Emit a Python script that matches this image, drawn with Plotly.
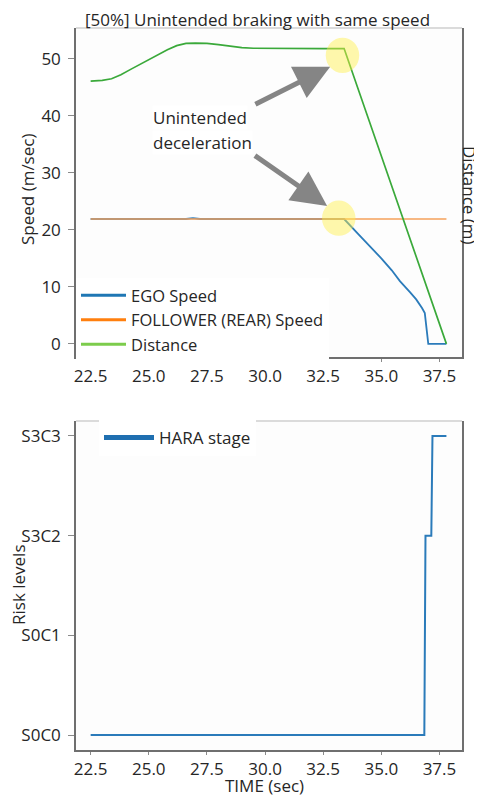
import plotly.graph_objects as go

# ---------------- data ----------------
dist_t = [22.5, 23.0, 23.4, 23.8, 24.2, 24.6, 25.0, 25.4, 25.8, 26.2, 26.6, 27.0, 27.5, 28.0, 28.5, 29.0, 29.5, 30.5, 31.5, 32.5, 33.4, 37.8]
dist_v = [46.1, 46.2, 46.5, 47.2, 48.1, 49.0, 49.9, 50.8, 51.6, 52.3, 52.7, 52.75, 52.7, 52.5, 52.2, 51.95, 51.85, 51.8, 51.8, 51.8, 51.8, 0.0]

ego_t = [22.5, 26.6, 26.9, 27.2, 33.2, 33.4, 34.0, 34.6, 35.0, 35.45, 35.8, 36.25, 36.5, 36.75, 36.87, 37.02, 37.8]
ego_v = [21.9, 21.9, 22.05, 21.9, 21.9, 21.9, 19.3, 16.8, 15.0, 12.9, 11.0, 9.0, 7.8, 6.3, 5.4, 0.0, 0.0]

fol_t = [22.5, 37.8]
fol_v = [21.9, 21.9]

hara_t = [22.5, 36.85, 36.9, 37.15, 37.2, 37.8]
hara_v = [0, 0, 2, 2, 3, 3]
hara_labels = ["S0C0", "S0C1", "S3C2", "S3C3"]

x_ticks = [22.5, 25.0, 27.5, 30.0, 32.5, 35.0, 37.5]
speed_ticks = [0, 10, 20, 30, 40, 50]

# highlight circles (data coords) and arrows
circles = [(33.33, 50.6), (33.17, 22.05)]
arrows = [((29.52, 41.9), (32.8, 48.6)), ((29.5, 33.2), (32.67, 24.2))]

# ---------------- layout helpers ----------------
OFF = 8  # page body margin
W, H = 474, 788
ML, MR, MT, MB = 68, 20, 20, 46
PW, PH = W - ML - MR, H - MT - MB


def px_x(px):  # page pixel -> paper
    return (px - OFF - ML) / PW


def px_y(py):
    return (H - MB - (py - OFF)) / PH


FONT = "Open Sans"
FS = 17
TXT = "#262626"
SPINE = "#6f6f6f"
XR = [21.87, 38.47]

fig = go.Figure()

# top plot traces
fig.add_trace(go.Scatter(x=ego_t, y=ego_v, mode="lines", line=dict(color="#2b7bba", width=1.8),
                         showlegend=False, xaxis="x", yaxis="y"))
fig.add_trace(go.Scatter(x=fol_t, y=fol_v, mode="lines", line=dict(color="#f5a15a", width=1.6),
                         showlegend=False, xaxis="x", yaxis="y"))
fig.add_trace(go.Scatter(x=dist_t, y=dist_v, mode="lines", line=dict(color="#3aa93a", width=1.7),
                         showlegend=False, xaxis="x", yaxis="y"))
# legend entries
fig.add_trace(go.Scatter(x=[None], y=[None], mode="lines", name="EGO Speed",
                         line=dict(color="#1f77b4", width=3), legend="legend", xaxis="x", yaxis="y"))
fig.add_trace(go.Scatter(x=[None], y=[None], mode="lines", name="FOLLOWER (REAR) Speed",
                         line=dict(color="#ff7f0e", width=3), legend="legend", xaxis="x", yaxis="y"))
fig.add_trace(go.Scatter(x=[None], y=[None], mode="lines", name="Distance",
                         line=dict(color="#7ccc4c", width=3), legend="legend", xaxis="x", yaxis="y"))

# bottom plot
fig.add_trace(go.Scatter(x=hara_t, y=hara_v, mode="lines", line=dict(color="#2b7bba", width=2),
                         showlegend=False, xaxis="x2", yaxis="y2"))
fig.add_trace(go.Scatter(x=[None], y=[None], mode="lines", name="HARA stage",
                         line=dict(color="#1f6fb0", width=5), legend="legend2", xaxis="x2", yaxis="y2"))

top_dom = [px_y(357), 1.0]
bot_dom = [0.0, px_y(421)]

axis_common = dict(showgrid=False, zeroline=False, showline=True, linecolor=SPINE, linewidth=1.5,
                   ticks="outside", tickcolor="#8a8a8a", tickwidth=1,
                   tickfont=dict(family=FONT, size=FS, color=TXT))
xax = dict(axis_common, domain=[0, 1], range=XR, tickvals=x_ticks, ticklen=3,
           ticktext=[f"{v:.1f}" for v in x_ticks], mirror=False)
yax = dict(axis_common, ticklen=6, ticklabelstandoff=4, mirror=True)

fig.update_layout(
    width=W, height=H,
    margin=dict(l=ML, r=MR, t=MT, b=MB),
    paper_bgcolor="white", plot_bgcolor="#fdfdfd",
    font=dict(family=FONT, color=TXT, size=FS),
    xaxis=dict(xax, anchor="y"),
    yaxis=dict(yax, domain=top_dom, range=[-2.3, 55.4], tickvals=speed_ticks, anchor="x"),
    xaxis2=dict(xax, anchor="y2"),
    yaxis2=dict(yax, domain=bot_dom, range=[-0.15, 3.15], tickvals=[0, 1, 2, 3],
                ticktext=hara_labels, anchor="x2"),
    legend=dict(x=px_x(76), y=px_y(278), xanchor="left", yanchor="top", bgcolor="white",
                borderwidth=0, itemwidth=45, font=dict(family=FONT, size=16.5, color=TXT), tracegroupgap=0),
    legend2=dict(x=px_x(99), y=px_y(420), xanchor="left", yanchor="top", bgcolor="white",
                 borderwidth=0, itemwidth=50, font=dict(family=FONT, size=FS, color=TXT)),
)

shapes = []
# light top spines
for xr, yr in (("x domain", "y domain"), ("x2 domain", "y2 domain")):
    shapes.append(dict(type="line", xref=xr, yref=yr, x0=0, x1=1, y0=1, y1=1,
                       line=dict(color="#cfcfcf", width=1.5), layer="above"))
# yellow highlight circles
rx, ry = 0.72, 3.1
for cx, cy in circles:
    shapes.append(dict(type="circle", xref="x", yref="y", x0=cx - rx, x1=cx + rx, y0=cy - ry, y1=cy + ry,
                       fillcolor="rgba(255,240,70,0.45)", line=dict(width=0), layer="above"))
fig.update_layout(shapes=shapes)

ann = []
for (tx, ty), (hx, hy) in arrows:
    ann.append(dict(x=hx, y=hy, ax=tx, ay=ty, xref="x", yref="y", axref="x", ayref="y",
                    text="", showarrow=True, arrowhead=2, arrowsize=1.4, arrowwidth=5,
                    arrowcolor="#858585"))
for txt, yy in (("Unintended", 117.5), ("deceleration", 142)):
    ann.append(dict(x=px_x(152), y=px_y(yy), xref="paper", yref="paper", xanchor="left", yanchor="middle",
                    text=txt, showarrow=False, align="left",
                    font=dict(family=FONT, size=FS, color=TXT), bgcolor="white", borderpad=0))
# title
ann.append(dict(x=px_x(257.5), y=px_y(19.5), xref="paper", yref="paper", xanchor="center", yanchor="middle",
                text="[50%] Unintended braking with same speed", showarrow=False,
                font=dict(family=FONT, size=FS, color=TXT)))
# axis titles
ann.append(dict(x=px_x(28), y=px_y(190), xref="paper", yref="paper", xanchor="center", yanchor="middle",
                text="Speed (m/sec)", textangle=-90, showarrow=False, font=dict(family=FONT, size=FS, color=TXT)))
ann.append(dict(x=px_x(470), y=px_y(195), xref="paper", yref="paper", xanchor="center", yanchor="middle",
                text="Distance (m)", textangle=90, showarrow=False, font=dict(family=FONT, size=FS, color=TXT)))
ann.append(dict(x=px_x(18), y=px_y(585), xref="paper", yref="paper", xanchor="center", yanchor="middle",
                text="Risk levels", textangle=-90, showarrow=False, font=dict(family=FONT, size=FS, color=TXT)))
ann.append(dict(x=px_x(264), y=px_y(785), xref="paper", yref="paper", xanchor="center", yanchor="middle",
                text="TIME (sec)", showarrow=False, font=dict(family=FONT, size=FS, color=TXT)))
fig.update_layout(annotations=ann)

fig.write_html("out.html")
